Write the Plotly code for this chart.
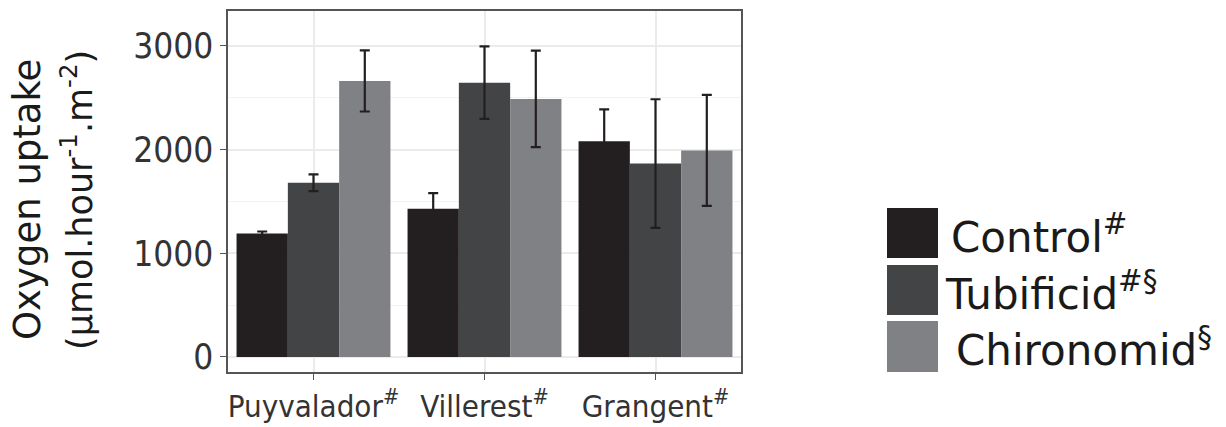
import plotly.graph_objects as go

sites = ["Puyvalador<sup>#</sup>", "Villerest<sup>#</sup>", "Grangent<sup>#</sup>"]
treatments = ["Control", "Tubificid", "Chironomid"]
legend_labels = ["Control<sup>#</sup>", "Tubificid<sup>#§</sup>", "Chironomid<sup>§</sup>"]
control = [1190, 1430, 2080]
control_err = [20, 150, 308]
tubificid = [1680, 2645, 1865]
tubificid_err = [80, 350, 620]
chironomid = [2662, 2488, 1992]
chironomid_err = [295, 465, 535]
colors = ["#231f20", "#434446", "#808185"]

values = [control, tubificid, chironomid]
errors = [control_err, tubificid_err, chironomid_err]

CFONT = "DejaVu Sans Condensed, DejaVu Sans"
NFONT = "DejaVu Sans"
W, H = 1226, 427
L, R, T, B = 228, 741, 11, 372

def px(x):
    return (x - L) / (R - L)

def py(y):
    return (B - y) / (B - T)

fig = go.Figure()
for name, v, e, c in zip(treatments, values, errors, colors):
    fig.add_trace(go.Bar(
        x=sites, y=v, name=name, marker=dict(color=c, line=dict(width=0)),
        error_y=dict(type="data", array=e, visible=True, color="#231f20", thickness=2.2, width=5),
        showlegend=False,
    ))

# custom legend (large keys)
key_rows = [(208, 258), (265, 315), (321, 372)]
text_x = [949, 943, 954]
for (y0, y1), lab, c, tx in zip(key_rows, legend_labels, colors, text_x):
    fig.add_shape(type="rect", xref="paper", yref="paper",
                  x0=px(887), x1=px(938), y0=py(y1), y1=py(y0),
                  fillcolor=c, line=dict(width=0))
    fig.add_annotation(text=lab, xref="paper", yref="paper",
                       x=px(tx), y=py((y0 + y1) / 2 + 1),
                       xanchor="left", yanchor="middle", showarrow=False,
                       font=dict(family=NFONT, size=42, color="#1a1a1a"))

# y-axis title (two lines)
fig.add_annotation(text="Oxygen uptake", xref="paper", yref="paper",
                   x=px(27), y=py(200), textangle=-90, showarrow=False,
                   xanchor="center", yanchor="middle",
                   font=dict(family=NFONT, size=37, color="#1a1a1a"))
fig.add_annotation(text="(µmol.hour<sup>-1</sup>.m<sup>-2</sup>)", xref="paper", yref="paper",
                   x=px(77), y=py(200), textangle=-90, showarrow=False,
                   xanchor="center", yanchor="middle",
                   font=dict(family=NFONT, size=35, color="#1a1a1a"))

fig.update_layout(
    width=W, height=H,
    margin=dict(l=L, r=W - R, t=T, b=H - B, autoexpand=False),
    paper_bgcolor="white", plot_bgcolor="white",
    barmode="group", bargap=0.1, bargroupgap=0,
    font=dict(family=CFONT, size=34, color="#333333"),
    hovermode=False,
)
fig.update_xaxes(
    automargin=False, tickangle=0,
    showgrid=True, gridcolor="#ebebeb", gridwidth=1.5,
    showline=True, mirror=True, linecolor="#555555", linewidth=1.5,
    ticks="outside", ticklen=6, tickcolor="#555555",
    tickfont=dict(family=CFONT, size=31, color="#333333"),
)
fig.update_yaxes(
    automargin=False,
    range=[-145, 3336], tickvals=[0, 1000, 2000, 3000],
    showgrid=True, gridcolor="#ebebeb", gridwidth=1.5,
    minor=dict(tickvals=[500, 1500, 2500], showgrid=True, gridcolor="#f3f3f3", gridwidth=1, ticks=""),
    zeroline=False,
    showline=True, mirror=True, linecolor="#555555", linewidth=1.5,
    ticks="outside", ticklen=6, tickcolor="#555555",
    tickfont=dict(family=CFONT, size=35, color="#333333"),
)
fig.write_html("out.html", config={"displayModeBar": False},
               post_script="document.body.style.margin='0px';")
